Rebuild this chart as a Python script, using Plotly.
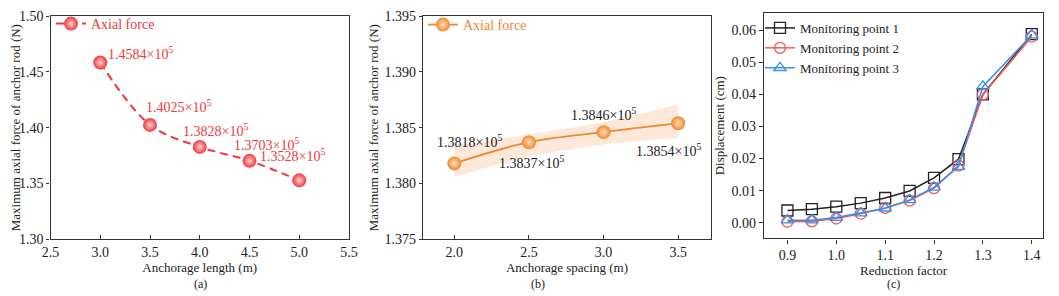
import plotly.graph_objects as go

# ---------------- data ----------------
# (a)
length_m = [3.0, 3.5, 4.0, 4.5, 5.0]
axial_a = [1.4584, 1.4025, 1.3828, 1.3703, 1.3528]
labels_a = ["1.4584×10<sup>5</sup>", "1.4025×10<sup>5</sup>", "1.3828×10<sup>5</sup>",
            "1.3703×10<sup>5</sup>", "1.3528×10<sup>5</sup>"]
ticks_ya = [1.30, 1.35, 1.40, 1.45, 1.50]
ticks_xa = [2.5, 3.0, 3.5, 4.0, 4.5, 5.0, 5.5]
# (b)
spacing_m = [2.0, 2.5, 3.0, 3.5]
axial_b = [1.3818, 1.3837, 1.3846, 1.3854]
band_upper = [1.3834, 1.3844, 1.3855, 1.3871]
band_lower = [1.3806, 1.3824, 1.3835, 1.3841]
labels_b = ["1.3818×10<sup>5</sup>", "1.3837×10<sup>5</sup>", "1.3846×10<sup>5</sup>",
            "1.3854×10<sup>5</sup>"]
ticks_yb = [1.375, 1.380, 1.385, 1.390, 1.395]
ticks_xb = [2.0, 2.5, 3.0, 3.5]
# (c)
reduction = [0.9, 0.95, 1.0, 1.05, 1.1, 1.15, 1.2, 1.25, 1.3, 1.4]
mp1 = [0.0038, 0.0042, 0.0050, 0.0061, 0.0077, 0.0099, 0.0140, 0.0198, 0.0400, 0.0588]
mp2 = [0.0003, 0.0004, 0.0013, 0.0028, 0.0046, 0.0069, 0.0108, 0.0178, 0.0400, 0.0580]
mp3 = [0.0008, 0.0008, 0.0016, 0.0030, 0.0045, 0.0071, 0.0110, 0.0175, 0.0425, 0.0585]
ticks_yc = [0.00, 0.01, 0.02, 0.03, 0.04, 0.05, 0.06]
ticks_xc = [0.9, 1.0, 1.1, 1.2, 1.3, 1.4]

FONT = "Liberation Serif"
RED = "#f0383c"
ORANGE = "#f0882c"
# page body has an 8px margin: figure fills the rest of the 1059x296 window
OFF = 8
W, H = 1059 - OFF, 296 - OFF

fig = go.Figure()

# ---- (a) ----
fig.add_trace(go.Scatter(
    x=length_m, y=axial_a, mode="lines+markers", name="Axial force",
    line=dict(color=RED, width=2, dash="8px,5px", shape="spline"),
    marker=dict(size=14, color=RED, gradient=dict(type="radial", color="#ffd0d0")),
    xaxis="x", yaxis="y", legend="legend"))

# ---- (b) ----
fig.add_trace(go.Scatter(
    x=spacing_m, y=band_lower, mode="lines", line=dict(width=0, shape="spline"),
    showlegend=False, hoverinfo="skip", xaxis="x2", yaxis="y2"))
fig.add_trace(go.Scatter(
    x=spacing_m, y=band_upper, mode="lines", line=dict(width=0, shape="spline"),
    fill="tonexty", fillcolor="rgba(248,190,150,0.35)",
    showlegend=False, hoverinfo="skip", xaxis="x2", yaxis="y2"))
fig.add_trace(go.Scatter(
    x=spacing_m, y=axial_b, mode="lines+markers", name="Axial force",
    line=dict(color=ORANGE, width=1.8, shape="spline"),
    marker=dict(size=14, color=ORANGE, gradient=dict(type="radial", color="#ffe0c0")),
    xaxis="x2", yaxis="y2", legend="legend2"))

# ---- (c) ----
for vals, nm, col, sym in [(mp1, "Monitoring point 1", "#222222", "square-open"),
                           (mp2, "Monitoring point 2", "#f05a5a", "circle-open"),
                           (mp3, "Monitoring point 3", "#3a8ee8", "triangle-up-open")]:
    fig.add_trace(go.Scatter(
        x=reduction, y=vals, mode="lines+markers", name=nm,
        line=dict(color=col, width=1.5),
        marker=dict(symbol=sym, size=11, color=col, line=dict(width=1.3, color=col)),
        xaxis="x3", yaxis="y3", legend="legend3"))

def px_x(p):
    return min(1.0, max(0.0, (p - OFF) / W))

def px_y(p):
    return min(1.0, max(0.0, 1 - (p - OFF) / H))

def px_y_free(p):
    return 1 - (p - OFF) / H

base = dict(showline=True, mirror=True, linecolor="#333333", linewidth=1.3,
            tickwidth=1.2, tickcolor="#333333", ticklabeloverflow="allow",
            showgrid=False, zeroline=False, automargin=False,
            tickfont=dict(family=FONT, size=14, color="#222222"),
            title_font=dict(family=FONT, size=13, color="#222222"))
x_in = dict(base, ticks="inside", ticklen=4)
y_out = dict(base, ticks="outside", ticklen=3)
c_out = dict(base, ticks="outside", ticklen=4)

yA = [px_y(239), px_y(14)]
yC = [px_y(238), px_y(11)]

fig.update_layout(
    width=W, height=H, margin=dict(l=0, r=0, t=0, b=0),
    paper_bgcolor="white", plot_bgcolor="white",
    font=dict(family=FONT, size=13, color="#222222"),
    xaxis=dict(x_in, domain=[px_x(50.5), px_x(349)], range=[2.5, 5.5], tickvals=ticks_xa,
               tickformat=".1f", anchor="y",
               title=dict(text="Anchorage length (m)", standoff=1)),
    yaxis=dict(y_out, domain=yA, range=[1.2999, 1.5001], tickvals=ticks_ya, tickformat=".2f",
               anchor="x", title=dict(text="Maximum axial force of anchor rod (N)", standoff=2)),
    xaxis2=dict(x_in, domain=[px_x(423), px_x(711)], range=[1.79, 3.72], tickvals=ticks_xb,
                tickformat=".1f", anchor="y2",
                title=dict(text="Anchorage spacing (m)", standoff=2)),
    yaxis2=dict(y_out, domain=yA, range=[1.37499, 1.39501], tickvals=ticks_yb, tickformat=".3f",
                anchor="x2", title=dict(text="Maximum axial force of anchor rod (N)", standoff=2)),
    xaxis3=dict(c_out, domain=[px_x(764), px_x(1043)], range=[0.852, 1.423], tickvals=ticks_xc,
                tickformat=".1f", anchor="y3",
                title=dict(text="Reduction factor", standoff=2)),
    yaxis3=dict(c_out, domain=yC, range=[-0.0049, 0.0654], tickvals=ticks_yc, tickformat=".2f",
                anchor="x3", title=dict(text="Displacement (cm)", standoff=3)),
    legend=dict(x=px_x(51), y=px_y_free(6), xanchor="left", yanchor="top", bgcolor="rgba(0,0,0,0)",
                font=dict(family=FONT, size=14, color=RED), itemwidth=30),
    legend2=dict(x=px_x(423), y=px_y_free(7), xanchor="left", yanchor="top", bgcolor="rgba(0,0,0,0)",
                 font=dict(family=FONT, size=14, color=ORANGE), itemwidth=30),
    legend3=dict(x=px_x(760), y=px_y_free(11), xanchor="left", yanchor="top", bgcolor="rgba(0,0,0,0)",
                 font=dict(family=FONT, size=13, color="#222222"), itemwidth=30, tracegroupgap=0),
)

# value labels (a): offsets of label centre from the point, in px
shifts_a = [(6, 9), (-6, 19), (-19, 17), (-18, 17), (-41, 25)]
for xv, yv, lab, (dx, dy) in zip(length_m, axial_a, labels_a, shifts_a):
    fig.add_annotation(x=xv, y=yv, xref="x", yref="y", text=lab, showarrow=False,
                       xanchor="left", yanchor="middle", xshift=dx, yshift=dy,
                       font=dict(family=FONT, size=14, color=RED))

# value labels (b)
shifts_b = [(15, 22), (3, -20), (0, 18), (-10, -27)]
for xv, yv, lab, (dx, dy) in zip(spacing_m, axial_b, labels_b, shifts_b):
    fig.add_annotation(x=xv, y=yv, xref="x2", yref="y2", text=lab, showarrow=False,
                       xanchor="center", yanchor="middle", xshift=dx, yshift=dy,
                       font=dict(family=FONT, size=14, color="#222222"))

for lab, xp in [("(a)", 200), ("(b)", 538), ("(c)", 893)]:
    fig.add_annotation(x=px_x(xp), y=px_y(284), xref="paper", yref="paper", text=lab,
                       showarrow=False, xanchor="center", yanchor="middle",
                       font=dict(family=FONT, size=12, color="#222222"))

fig.write_html("out.html")
